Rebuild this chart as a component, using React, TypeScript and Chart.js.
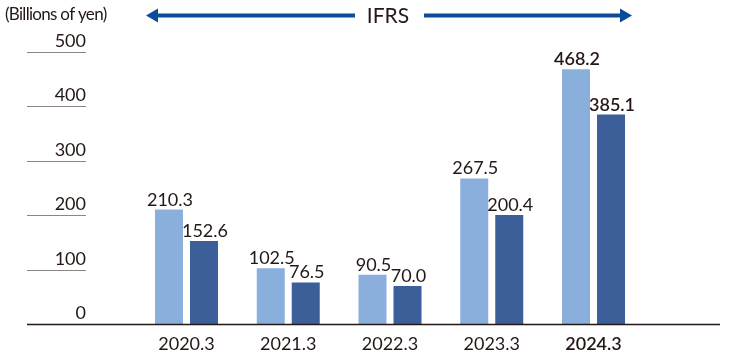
import React, { useEffect, useRef } from "react";
import { Chart, registerables } from "chart.js";

Chart.register(...registerables);

const categories = ["2020.3", "2021.3", "2022.3", "2023.3", "2024.3"];
const seriesLight = [210.3, 102.5, 90.5, 267.5, 468.2];
const seriesDark = [152.6, 76.5, 70.0, 200.4, 385.1];
const yTicks = [0, 100, 200, 300, 400, 500];
const unitLabel = "(Billions of yen)";
const standardLabel = "IFRS";
const highlightIndex = 4;

const FONT = "Lato, 'DejaVu Sans', sans-serif";
const TEXT_COLOR = "#231815";
const LIGHT = "#8AAFDD";
const DARK = "#3D5F99";
const ARROW = "#0B4C9E";

const decorPlugin = {
  id: "decor",
  afterDatasetsDraw(chart: any) {
    const ctx = chart.ctx as CanvasRenderingContext2D;
    const y = chart.scales.y;
    ctx.save();

    // header
    ctx.fillStyle = TEXT_COLOR;
    ctx.font = `17px ${FONT}`;
    (ctx as any).letterSpacing = "-0.7px";
    ctx.textAlign = "left";
    ctx.textBaseline = "middle";
    ctx.fillText(unitLabel, 5, 15);
    (ctx as any).letterSpacing = "0px";

    ctx.font = `21px ${FONT}`;
    ctx.textAlign = "center";
    ctx.fillText(standardLabel, 388, 16);

    const drawArrow = (x1: number, x2: number, dir: number) => {
      const headX = dir < 0 ? x1 : x2;
      ctx.strokeStyle = ARROW;
      ctx.fillStyle = ARROW;
      ctx.lineWidth = 4;
      ctx.beginPath();
      ctx.moveTo(dir < 0 ? x1 + 10 : x1, 15.5);
      ctx.lineTo(dir < 0 ? x2 : x2 - 10, 15.5);
      ctx.stroke();
      ctx.beginPath();
      ctx.moveTo(headX, 15.5);
      ctx.lineTo(headX - dir * 12, 8.5);
      ctx.lineTo(headX - dir * 12, 22.5);
      ctx.closePath();
      ctx.fill();
    };
    drawArrow(146, 355, -1);
    drawArrow(424, 632, 1);

    // y ticks
    ctx.font = `18px ${FONT}`;
    ctx.textAlign = "right";
    ctx.textBaseline = "alphabetic";
    yTicks.forEach((v) => {
      const py = y.getPixelForValue(v);
      ctx.fillStyle = TEXT_COLOR;
      ctx.fillText(String(v), 86, py - 5);
      if (v !== 0) {
        ctx.strokeStyle = "#8a8684";
        ctx.lineWidth = 1;
        ctx.beginPath();
        ctx.moveTo(27, Math.round(py) + 0.5);
        ctx.lineTo(86, Math.round(py) + 0.5);
        ctx.stroke();
      }
    });
    // baseline
    const by = y.getPixelForValue(0);
    ctx.strokeStyle = TEXT_COLOR;
    ctx.lineWidth = 1.5;
    ctx.beginPath();
    ctx.moveTo(27, by + 0.5);
    ctx.lineTo(720, by + 0.5);
    ctx.stroke();

    // value labels
    ctx.textAlign = "center";
    ctx.textBaseline = "alphabetic";
    chart.data.datasets.forEach((ds: any, di: number) => {
      const meta = chart.getDatasetMeta(di);
      meta.data.forEach((el: any, i: number) => {
        ctx.font = `${i === highlightIndex ? "600 " : ""}18px ${FONT}`;
        ctx.fillStyle = TEXT_COLOR;
        ctx.fillText(Number(ds.data[i]).toFixed(1), el.x + 1, el.y - 4);
      });
    });
    ctx.restore();
  },
};

export default function App() {
  const ref = useRef<HTMLCanvasElement | null>(null);
  useEffect(() => {
    if (!ref.current) return;
    const chart = new Chart(ref.current, {
      type: "bar",
      data: {
        labels: categories,
        datasets: [
          { data: seriesLight, backgroundColor: LIGHT, barPercentage: 0.8, categoryPercentage: 0.688 },
          { data: seriesDark, backgroundColor: DARK, barPercentage: 0.8, categoryPercentage: 0.688 },
        ],
      },
      options: {
        animation: false,
        responsive: true,
        maintainAspectRatio: false,
        layout: { padding: { left: 135.6, right: 85.6, top: 52, bottom: 4.4 } },
        plugins: { legend: { display: false }, tooltip: { enabled: false } },
        scales: {
          x: {
            grid: { display: false, drawTicks: false },
            border: { display: false },
            afterFit: (s: any) => {
              s.height = 30.6;
            },
            ticks: {
              color: TEXT_COLOR,
              padding: 9,
              font: (c: any) => ({ family: FONT, size: 18, weight: c.index === highlightIndex ? "600" : "400" }),
            },
          },
          y: { display: false, min: 0, max: 500, ticks: { stepSize: 100 } },
        },
      },
      plugins: [decorPlugin],
    });
    return () => chart.destroy();
  }, []);
  return (
    <div style={{ position: "fixed", left: 0, top: 0, width: 730, height: 359, background: "#fff" }}>
      <canvas ref={ref} />
    </div>
  );
}
